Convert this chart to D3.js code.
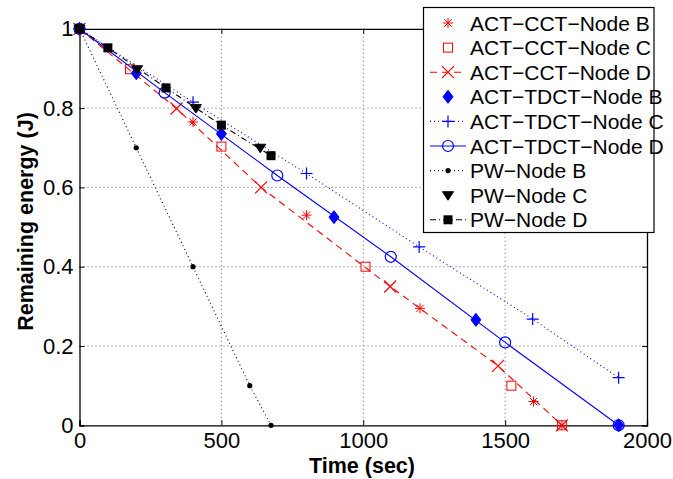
<!DOCTYPE html>
<html><head><meta charset="utf-8">
<script src="https://cdn.jsdelivr.net/npm/d3@7"></script>
<style>
body{margin:0;background:#fff;}
text{font-family:"Liberation Sans",Arial,Helvetica,sans-serif;}
</style></head>
<body><svg id="c" width="673" height="479"></svg>
<script>
// ---- data ----
const cctB = [[0,1],[400,0.765],[800,0.53],[1200,0.295],[1600,0.06],[1700,0]];
const cctC = [[0,1],[178,0.898],[500,0.703],[1008,0.40],[1522,0.10],[1700,0]];
const cctD = [[0,1],[342,0.799],[640,0.60],[1095,0.35],[1475,0.15],[1700,0]];
const tdctB = [[0,1],[200,0.888],[500,0.735],[897,0.525],[1397,0.266],[1900,0]];
const tdctC = [[0,1],[400,0.815],[800,0.635],[1197,0.45],[1597,0.268],[1900,0.12]];
const tdctD = [[0,1],[300,0.839],[697,0.63],[1097,0.425],[1500,0.209],[1900,0]];
const pwB = [[0,1],[200,0.70],[400,0.40],[600,0.10],[675,0]];
const pwC = [[0,1],[203,0.898],[410,0.80],[637,0.70]];
const pwD = [[0,1],[100,0.952],[305,0.851],[500,0.757],[675,0.68]];
const xTicks = [0,500,1000,1500,2000];
const yTicks = [0,0.2,0.4,0.6,0.8,1];
const names = ["ACT\u2212CCT\u2212Node B","ACT\u2212CCT\u2212Node C","ACT\u2212CCT\u2212Node D",
 "ACT\u2212TDCT\u2212Node B","ACT\u2212TDCT\u2212Node C","ACT\u2212TDCT\u2212Node D",
 "PW\u2212Node B","PW\u2212Node C","PW\u2212Node D"];

const series = [
 {data:cctB, color:"#ff0000", line:null, marker:"asterisk"},
 {data:cctC, color:"#ff0000", line:null, marker:"osquare"},
 {data:cctD, color:"#ff0000", line:"7,5", marker:"x"},
 {data:tdctB, color:"#0000ff", line:null, marker:"diamond"},
 {data:tdctC, color:"#0000ff", line:"1,3", marker:"plus"},
 {data:tdctD, color:"#0000ff", line:"", marker:"circle"},
 {data:pwB, color:"#000000", line:"1,3", marker:"dot"},
 {data:pwC, color:"#000000", line:null, marker:"tri"},
 {data:pwD, color:"#000000", line:"6,3,1,3", marker:"fsquare"}
];

const svg = d3.select("#c");
const L=79.5, R=647, T=28.8, B=425.3;
const x = d3.scaleLinear().domain([0,2000]).range([L,R]);
const y = d3.scaleLinear().domain([0,1]).range([B,T]);

// grid
const g = svg.append("g");
g.selectAll(".gx").data(xTicks.slice(1,-1)).enter().append("line")
 .attr("x1",d=>x(d)).attr("x2",d=>x(d)).attr("y1",T).attr("y2",B)
 .attr("stroke","#666").attr("stroke-width",1).attr("stroke-dasharray","1,3");
g.selectAll(".gy").data(yTicks.slice(1,-1)).enter().append("line")
 .attr("y1",d=>y(d)).attr("y2",d=>y(d)).attr("x1",L).attr("x2",R)
 .attr("stroke","#666").attr("stroke-width",1).attr("stroke-dasharray","1,3");

// axes
const xa = svg.append("g").attr("transform",`translate(0,${B})`)
 .call(d3.axisBottom(x).tickValues(xTicks).tickSize(-5).tickPadding(7).tickFormat(d3.format("d")));
const xt = svg.append("g").attr("transform",`translate(0,${T})`)
 .call(d3.axisTop(x).tickValues(xTicks).tickSize(-5).tickFormat(""));
const ya = svg.append("g").attr("transform",`translate(${L},0)`)
 .call(d3.axisLeft(y).tickValues(yTicks).tickSize(-5).tickPadding(6).tickFormat(d=>d===0?"0":d===1?"1":d3.format(".1f")(d)));
const yr = svg.append("g").attr("transform",`translate(${R},0)`)
 .call(d3.axisRight(y).tickValues(yTicks).tickSize(-5).tickFormat(""));
[xa,xt,ya,yr].forEach(a=>{
 a.select(".domain").attr("stroke","#000").attr("stroke-width",1.3);
 a.selectAll(".tick line").attr("stroke","#000").attr("stroke-width",1);
 a.selectAll("text").attr("font-size",22).attr("fill","#000")
  .style("font-family",'"Liberation Sans",Arial,Helvetica,sans-serif');
});

svg.append("text").attr("x",362).attr("y",472.5).attr("text-anchor","middle")
 .attr("font-size",21.5).attr("font-weight","bold").text("Time (sec)");
svg.append("text").attr("transform","translate(33,221.5) rotate(-90)").attr("text-anchor","middle")
 .attr("font-size",21.5).attr("font-weight","bold").text("Remaining energy (J)");

// markers
function drawMarker(sel, type, color, cx, cy){
 const m = sel.append("g").attr("transform",`translate(${cx},${cy})`);
 if(type==="asterisk"){
  const r=5;
  [[0,r],[r,0],[0.72*r,0.72*r],[0.72*r,-0.72*r]].forEach(([a,b])=>{
   m.append("line").attr("x1",-a).attr("y1",-b).attr("x2",a).attr("y2",b).attr("stroke",color).attr("stroke-width",1);
  });
 } else if(type==="osquare"){
  m.append("rect").attr("x",-4.5).attr("y",-4.5).attr("width",9).attr("height",9)
   .attr("fill","none").attr("stroke",color).attr("stroke-width",1);
 } else if(type==="x"){
  const r=6;
  m.append("path").attr("d",`M${-r},${-r}L${r},${r}M${-r},${r}L${r},${-r}`).attr("stroke",color).attr("stroke-width",1.2);
 } else if(type==="diamond"){
  m.append("path").attr("d","M0,-6.5L5,0L0,6.5L-5,0Z").attr("fill",color).attr("stroke",color).attr("stroke-width",1);
 } else if(type==="plus"){
  const r=6;
  m.append("path").attr("d",`M${-r},0L${r},0M0,${-r}L0,${r}`).attr("stroke",color).attr("stroke-width",1.2);
 } else if(type==="circle"){
  m.append("circle").attr("r",5.5).attr("fill","none").attr("stroke",color).attr("stroke-width",1.2);
 } else if(type==="dot"){
  m.append("circle").attr("r",2.6).attr("fill",color);
 } else if(type==="tri"){
  m.append("path").attr("d","M-5.5,-3.5L5.5,-3.5L0,5Z").attr("fill",color).attr("stroke",color).attr("stroke-width",1);
 } else if(type==="fsquare"){
  m.append("rect").attr("x",-4.5).attr("y",-4.5).attr("width",9).attr("height",9).attr("fill",color);
 }
}

const line = d3.line().x(d=>x(d[0])).y(d=>y(d[1]));
const plot = svg.append("g");
series.forEach(s=>{
 if(s.line!==null){
  plot.append("path").datum(s.data).attr("d",line).attr("fill","none")
   .attr("stroke",s.color).attr("stroke-width",1.1)
   .attr("stroke-dasharray",s.line||null);
 }
 s.data.forEach(d=>drawMarker(plot,s.marker,s.color,x(d[0]),y(d[1])));
});

// legend
const lg = svg.append("g");
lg.append("rect").attr("x",423.5).attr("y",7.5).attr("width",230.5).attr("height",225)
 .attr("fill","#fff").attr("stroke","#000").attr("stroke-width",1.2);
series.forEach((s,i)=>{
 const cy = 23 + i*24.6;
 if(s.line!==null){
  lg.append("line").attr("x1",430).attr("x2",466).attr("y1",cy).attr("y2",cy)
   .attr("stroke",s.color).attr("stroke-width",1.1).attr("stroke-dasharray",s.line||null);
 }
 drawMarker(lg,s.marker,s.color,448,cy);
 lg.append("text").attr("x",470).attr("y",cy).attr("dy","0.36em").attr("font-size",21)
  .attr("fill","#000").text(names[i]);
});
</script></body></html>
